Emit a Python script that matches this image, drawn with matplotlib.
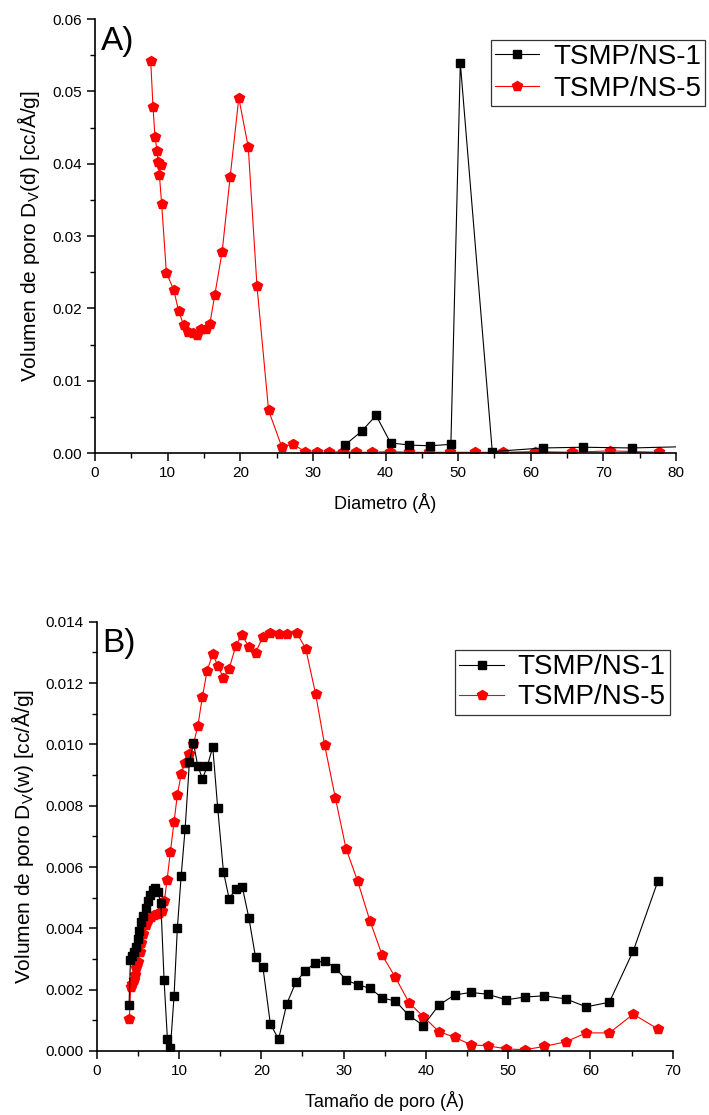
import matplotlib
matplotlib.use("Agg")
import matplotlib.pyplot as plt
from matplotlib.ticker import MultipleLocator, FormatStrFormatter

plt.rcParams["font.family"] = ["Liberation Sans", "DejaVu Sans"]
plt.rcParams["mathtext.fontset"] = "custom"
plt.rcParams["mathtext.rm"] = "Liberation Sans"
plt.rcParams["mathtext.it"] = "Liberation Sans:italic"

# Panel A: D_V(d) vs diameter
a_ns1_x = [34.4, 36.7, 38.7, 40.7, 43.3, 46.1, 49.0, 50.3, 54.7, 61.7, 67.2, 73.9, 82.0]
a_ns1_y = [0.0011, 0.0030, 0.0052, 0.0014, 0.0011, 0.0010, 0.0012, 0.0539, 0.0002,
           0.0007, 0.0008, 0.0007, 0.0009]
a_ns5_x = [7.67, 7.99, 8.26, 8.54, 8.68, 9.05, 8.86, 9.18, 9.83, 10.83, 11.52, 12.2,
           12.8, 13.45, 14.1, 14.6, 15.3, 15.8, 16.5, 17.5, 18.6, 19.8, 21.1, 22.3,
           23.9, 25.7, 27.3, 28.9, 30.5, 32.2, 34.2, 36.0, 38.2, 40.6, 43.2, 46.0,
           48.9, 52.3, 56.2, 60.6, 65.7, 70.9, 77.6]
a_ns5_y = [0.0542, 0.0478, 0.0437, 0.0418, 0.0402, 0.0398, 0.0385, 0.0344, 0.0249,
           0.0226, 0.0196, 0.0177, 0.0167, 0.0166, 0.0163, 0.0171, 0.0172, 0.0178,
           0.0219, 0.0278, 0.0381, 0.0491, 0.0423, 0.0231, 0.0059, 0.0009, 0.0012,
           0.0002, 0.0001, 0.0001, 0.0002, 0.0001, 0.0001, 0.0002, 0.0001, 0.0001,
           0.0001, 0.0001, 0.0001, 0.0002, 0.0001, 0.0003, 0.0001]

# Panel B: D_V(w) vs pore size
b_ns1_x = [3.93, 4.1, 4.3, 4.58, 4.74, 4.99, 5.18, 5.43, 5.67, 5.96, 6.2, 6.48, 6.81,
           7.13, 7.4, 7.79, 8.19, 8.59, 8.96, 9.4, 9.8, 10.26, 10.74, 11.27, 11.76,
           12.28, 12.85, 13.46, 14.1, 14.7, 15.4, 16.1, 16.9, 17.7, 18.5, 19.3, 20.2,
           21.1, 22.1, 23.1, 24.2, 25.3, 26.5, 27.7, 29.0, 30.3, 31.7, 33.2, 34.7,
           36.3, 37.9, 39.7, 41.6, 43.5, 45.5, 47.5, 49.8, 52.0, 54.4, 57.0, 59.5,
           62.3, 65.2, 68.2]
b_ns1_y = [0.0015, 0.00297, 0.0031, 0.00324, 0.0034, 0.00365, 0.0039, 0.0042, 0.0044,
           0.00465, 0.0049, 0.0051, 0.00525, 0.0053, 0.0052, 0.00484, 0.0023, 0.0004,
           0.0001, 0.0018, 0.0040, 0.0057, 0.00723, 0.00944, 0.01004, 0.0093, 0.00888,
           0.0093, 0.00992, 0.00794, 0.00585, 0.00496, 0.00529, 0.00534, 0.00433,
           0.00306, 0.00273, 0.00089, 0.00038, 0.00154, 0.00224, 0.0026, 0.00287,
           0.00294, 0.00271, 0.00232, 0.00216, 0.00205, 0.00173, 0.00163, 0.00117,
           0.00083, 0.0015, 0.00183, 0.00191, 0.00185, 0.00167, 0.00176, 0.0018,
           0.0017, 0.00144, 0.00159, 0.00326, 0.00554]
b_ns5_x = [3.97, 4.13, 4.33, 4.5, 4.66, 4.82, 5.02, 5.23, 5.43, 5.67, 5.96, 6.24, 6.57,
           6.93, 7.3, 7.6, 7.9, 8.22, 8.55, 8.95, 9.4, 9.8, 10.26, 10.7, 11.2, 11.75,
           12.29, 12.85, 13.42, 14.1, 14.7, 15.4, 16.1, 16.9, 17.6, 18.5, 19.3, 20.2,
           21.1, 22.1, 23.15, 24.3, 25.4, 26.6, 27.7, 29.0, 30.3, 31.7, 33.2, 34.7,
           36.3, 37.95, 39.7, 41.6, 43.5, 45.5, 47.5, 49.8, 52.0, 54.4, 57.0, 59.5,
           62.3, 65.2, 68.2]
b_ns5_y = [0.00104, 0.0021, 0.00219, 0.0023, 0.00248, 0.0027, 0.0029, 0.00324,
           0.00353, 0.0038, 0.0041, 0.00427, 0.00436, 0.00444, 0.00447, 0.0045,
           0.00458, 0.00489, 0.00558, 0.00648, 0.00748, 0.00835, 0.00902, 0.00938,
           0.00969, 0.0100, 0.0106, 0.01156, 0.0124, 0.01295, 0.01257, 0.01217,
           0.01247, 0.01321, 0.01357, 0.01319, 0.01299, 0.01351, 0.01362, 0.01361,
           0.01359, 0.01364, 0.01312, 0.01165, 0.00998, 0.00826, 0.0066, 0.00555,
           0.00425, 0.00312, 0.0024, 0.00158, 0.00112, 0.00063, 0.00045, 0.0002,
           0.00017, 0.00007, 0.00004, 0.00015, 0.0003, 0.00059, 0.00059, 0.0012,
           0.00072]

labels = ["TSMP/NS-1", "TSMP/NS-5"]

fig = plt.figure(figsize=(7.09, 11.15), dpi=100)
ax_a = fig.add_axes([0.134, 0.5937, 0.8195, 0.3892])
ax_b = fig.add_axes([0.1364, 0.0574, 0.8124, 0.385])


def style_axis(ax):
    for side in ("top", "right"):
        ax.spines[side].set_visible(False)
    for side in ("left", "bottom"):
        ax.spines[side].set_linewidth(1.2)
    ax.tick_params(which="major", direction="out", length=6, width=1.1, labelsize=11)
    ax.tick_params(which="minor", direction="out", length=3.5, width=1.0)


def draw(ax, x1, y1, x5, y5):
    ax.plot(x1, y1, color="black", lw=0.8, marker="s", ms=5.5, mfc="black",
            mec="black", label=labels[0], zorder=3)
    ax.plot(x5, y5, color="red", lw=0.8, marker="p", ms=7.5, mfc="red",
            mec="red", label=labels[1], zorder=2)


# panel A
draw(ax_a, a_ns1_x, a_ns1_y, a_ns5_x, a_ns5_y)
ax_a.set_xlim(0, 80)
ax_a.set_ylim(0, 0.06)
ax_a.xaxis.set_major_locator(MultipleLocator(10))
ax_a.xaxis.set_minor_locator(MultipleLocator(5))
ax_a.yaxis.set_major_locator(MultipleLocator(0.01))
ax_a.yaxis.set_minor_locator(MultipleLocator(0.005))
ax_a.yaxis.set_major_formatter(FormatStrFormatter("%.2f"))
style_axis(ax_a)
ax_a.set_xlabel("Diametro (Å)", fontsize=13, labelpad=9)
ax_a.set_ylabel(r"Volumen de poro D$_{\mathrm{V}}$(d) [cc/Å/g]", fontsize=15, labelpad=7)
ax_a.text(0.01, 0.985, "A)", transform=ax_a.transAxes, fontsize=24, va="top", ha="left")
leg = ax_a.legend(loc="upper left", bbox_to_anchor=(0.681, 0.952), borderaxespad=0,
                  fontsize=20, handlelength=1.6, labelspacing=0.2, borderpad=0.15,
                  handletextpad=0.5, fancybox=False, framealpha=1, edgecolor="#333333")
leg.get_frame().set_linewidth(0.9)

# panel B
draw(ax_b, b_ns1_x, b_ns1_y, b_ns5_x, b_ns5_y)
ax_b.set_xlim(0, 70)
ax_b.set_ylim(0, 0.014)
ax_b.xaxis.set_major_locator(MultipleLocator(10))
ax_b.xaxis.set_minor_locator(MultipleLocator(5))
ax_b.yaxis.set_major_locator(MultipleLocator(0.002))
ax_b.yaxis.set_minor_locator(MultipleLocator(0.001))
ax_b.yaxis.set_major_formatter(FormatStrFormatter("%.3f"))
style_axis(ax_b)
ax_b.set_xlabel("Tamaño de poro (Å)", fontsize=13, labelpad=9)
ax_b.set_ylabel(r"Volumen de poro D$_{\mathrm{V}}$(w) [cc/Å/g]", fontsize=15, labelpad=7)
ax_b.text(0.01, 0.985, "B)", transform=ax_b.transAxes, fontsize=24, va="top", ha="left")
leg = ax_b.legend(loc="upper left", bbox_to_anchor=(0.6226, 0.934), borderaxespad=0,
                  fontsize=20, handlelength=1.6, labelspacing=0.15, borderpad=0.15,
                  handletextpad=0.5, fancybox=False, framealpha=1, edgecolor="#333333")
leg.get_frame().set_linewidth(0.9)

fig.savefig("out.png", dpi=100)
